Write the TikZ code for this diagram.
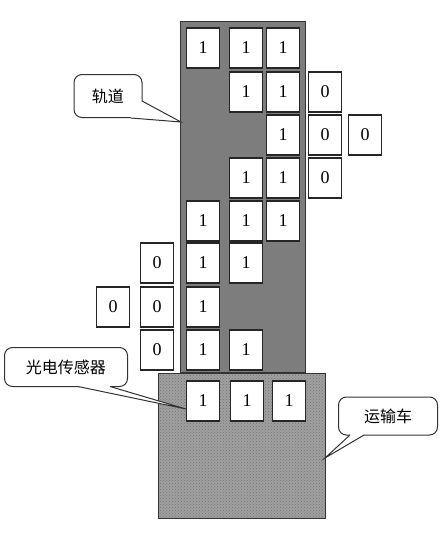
\documentclass[tikz,border=0pt]{standalone}
\usepackage{fontspec}
\usepackage{tikz}
\usetikzlibrary{patterns}
\setmainfont{Liberation Serif}
\newfontfamily\cjk{Noto Sans CJK SC}
\definecolor{railgray}{RGB}{125,125,125}
\definecolor{cartgray}{RGB}{160,160,160}
\tikzset{
  cell/.style={draw=black!85, line width=1.3pt, fill=white, minimum width=33pt,
    minimum height=40pt, inner sep=0pt, font=\fontsize{18}{20}\selectfont},
  bubble/.style={draw=black!80, line width=1pt, fill=white, rounded corners=8pt,
    inner sep=0pt, font=\cjk\fontsize{16}{19}\selectfont},
  tail/.style={draw=black!80, line width=1pt, line join=miter},
}

\begin{document}
\begin{tikzpicture}[x=1pt, y=-1pt]
\useasboundingbox (0,0) rectangle (447,542);

% track and transport cart
\draw[fill=railgray, draw=black!80, line width=1pt] (180,21) rectangle (305,372);
\fill[cartgray] (158,373) rectangle (325,518);
\fill[pattern=crosshatch dots, pattern color=black!55] (158,373) rectangle (325,518);
\draw[draw=black!80, line width=1pt] (158,373) rectangle (325,518);

% row 1
\node[cell] (r1c1) at (203,48) {1};
\node[cell] (r1c2) at (246,48) {1};
\node[cell] (r1c3) at (283,48) {1};
% row 2
\node[cell] (r2c2) at (246,92) {1};
\node[cell] (r2c3) at (283,92) {1};
\node[cell] (r2c4) at (325,92) {0};
% row 3
\node[cell] (r3c3) at (283,135) {1};
\node[cell] (r3c4) at (325,135) {0};
\node[cell] (r3c5) at (365,135) {0};
% row 4
\node[cell] (r4c2) at (246,178) {1};
\node[cell] (r4c3) at (283,178) {1};
\node[cell] (r4c4) at (325,178) {0};
% row 5
\node[cell] (r5c1) at (203,221) {1};
\node[cell] (r5c2) at (246,221) {1};
\node[cell] (r5c3) at (283,221) {1};
% row 6
\node[cell] (r6c0) at (157,263) {0};
\node[cell] (r6c1) at (203,263) {1};
\node[cell] (r6c2) at (246,263) {1};
% row 7
\node[cell] (r7cm) at (113,307) {0};
\node[cell] (r7c0) at (157,307) {0};
\node[cell] (r7c1) at (203,307) {1};
% row 8
\node[cell] (r8c0) at (157,350) {0};
\node[cell] (r8c1) at (203,350) {1};
\node[cell] (r8c2) at (246,350) {1};
% cart row
\node[cell] (cartA) at (203,401) {1};
\node[cell] (cartB) at (247,401) {1};
\node[cell] (cartC) at (289,401) {1};

% callouts
\node[bubble, minimum width=68pt, minimum height=43pt] (rail) at (108,96) {轨道};
\coordinate (railtip) at (181,122);
\coordinate (railp) at (142,101);
\coordinate (railq) at (131,118);
\fill[white] (railp) -- (railtip) -- (railq) -- (128,106) -- cycle;
\draw[tail] (railp) -- (railtip) -- (railq);

\node[bubble, minimum width=123pt, minimum height=39pt] (sensor) at (66,367) {光电传感器};
\coordinate (sensortip) at (186,409);
\coordinate (sensorp) at (78,386.5);
\coordinate (sensorq) at (110,386.5);
\fill[white] (sensorp) -- (sensortip) -- (sensorq) -- (94,378) -- cycle;
\draw[tail] (sensorp) -- (sensortip) -- (sensorq);

\node[bubble, minimum width=99pt, minimum height=38pt] (cart) at (388,416) {运输车};
\coordinate (carttip) at (325,458);
\coordinate (cartp) at (350,435);
\coordinate (cartq) at (364,435);
\fill[white] (cartp) -- (carttip) -- (cartq) -- (358,426) -- cycle;
\draw[tail] (cartp) -- (carttip) -- (cartq);
\end{tikzpicture}
\end{document}
